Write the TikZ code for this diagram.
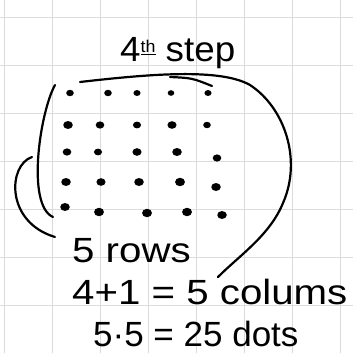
\documentclass[tikz,border=0pt]{standalone}
\usepackage{fontspec}
\usetikzlibrary{shapes.geometric}
\setmainfont{Liberation Sans}
\begin{document}
\begin{tikzpicture}[x=1pt,y=-1pt,
  gridline/.style={draw=black!14,line width=0.9pt},
  pen/.style={draw=black,line width=2.2pt,line cap=round,line join=round},
  dot/.style={ellipse,fill=black,inner sep=0pt,minimum width=9.5pt,minimum height=8pt},
  hand/.style={font=\fontsize{35}{40}\selectfont,inner sep=0pt,text=black}]
\useasboundingbox (0,0) rectangle (353,353);
\fill[white] (0,0) rectangle (353,353);
% grid paper
\foreach \gx in {4,52,100,148,196,244,292,340}
  \draw[gridline] (\gx,0) -- (\gx,353);
\foreach \gy in {17,65,113,161,209,257,305}
  \draw[gridline] (0,\gy) -- (353,\gy);
% title
\node[hand,anchor=base west] (title) at (120,62) {\scalebox{1.05}[1]{4\raisebox{0.5ex}{\fontsize{17}{20}\selectfont\underline{th}} step}};
% dots
\foreach \c/\px/\py/\ds in {
  a1/70/93/0.8, a2/108/93/0.8, a3/137/93/0.75, a4/171/93/0.7, a5/208/93/0.75,
  b1/68/125/1, b2/100/125/0.9, b3/137/125/0.85, b4/172/125/0.95, b5/207/125/0.8,
  c1/67/152/0.9, c2/98/152/0.85, c3/137/152/0.95, c4/177/152/1, c5/217/158/0.9,
  d1/66/182/1, d2/101/182/0.95, d3/139/182/1, d4/180/182/1.05, d5/216/187/1,
  e1/65/207/1, e2/99/212/1.05, e3/147/213/1.05, e4/187/212/1.05, e5/222/215/1}
  \node[dot,scale=\ds] (\c) at (\px,\py) {};
% strokes
\draw[pen] (55,85) .. controls (40,112) and (26,205) .. (53,217);
\draw[pen] (32,157) .. controls (8,165) and (5,222) .. (55,237);
\draw[pen] (80,82) .. controls (150,74) and (220,68) .. (250,85)
  .. controls (285,108) and (302,160) .. (283,203)
  .. controls (270,235) and (240,255) .. (218,277);
\draw[pen] (170,77) .. controls (192,78) .. (212,86);
% text
\node[hand,anchor=base west] (rows) at (72,262) {\scalebox{1.15}[1]{5 rows}};
\node[hand,anchor=base west] (cols) at (72,304) {\scalebox{1.15}[1]{4+1 = 5 colums}};
\node[hand,anchor=base west] (dots) at (93,346) {5·5 = 25 dots};
\end{tikzpicture}
\end{document}
